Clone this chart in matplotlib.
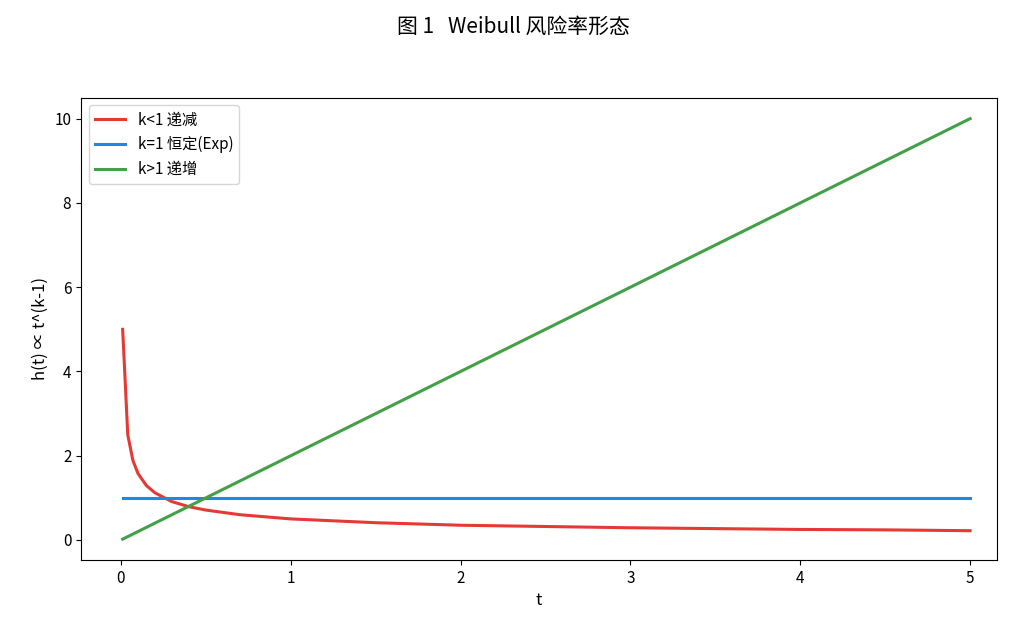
import matplotlib
matplotlib.use("Agg")
import matplotlib.pyplot as plt

plt.rcParams['font.family'] = ['Noto Sans CJK SC', 'DejaVu Sans']

t_dec = [0.01, 0.04, 0.07, 0.1, 0.15, 0.2, 0.3, 0.4, 0.5, 0.7, 1.0, 1.5, 2.0, 2.5, 3.0, 3.5, 4.0, 4.5, 5.0]
h_dec = [5.0, 2.5, 1.89, 1.58, 1.29, 1.12, 0.91, 0.79, 0.71, 0.60, 0.50, 0.41, 0.35, 0.32, 0.29, 0.27, 0.25, 0.24, 0.22]
t_const = [0.01, 5.0]
h_const = [1.0, 1.0]
t_inc = [0.01, 5.0]
h_inc = [0.02, 10.0]

labels = ["k<1 递减", "k=1 恒定(Exp)", "k>1 递增"]
colors = ["#e53935", "#1e88e5", "#43a047"]

fig = plt.figure(figsize=(10.26, 6.38), dpi=100)
ax = fig.add_axes([0.079, 0.122, 0.893, 0.725])
ax.plot(t_dec, h_dec, color=colors[0], lw=2.2, label=labels[0])
ax.plot(t_const, h_const, color=colors[1], lw=2.2, label=labels[1])
ax.plot(t_inc, h_inc, color=colors[2], lw=2.2, label=labels[2])
ax.set_xlim(-0.235, 5.16)
ax.set_xlabel("t", fontsize=12)
ax.set_ylabel("h(t) ∝ t^(k-1)", fontsize=12)
ax.tick_params(labelsize=11)
ax.legend(loc="upper left", fontsize=11)
fig.suptitle("图 1   Weibull 风险率形态", fontsize=15, y=0.975)
fig.savefig("out.png", dpi=100)
